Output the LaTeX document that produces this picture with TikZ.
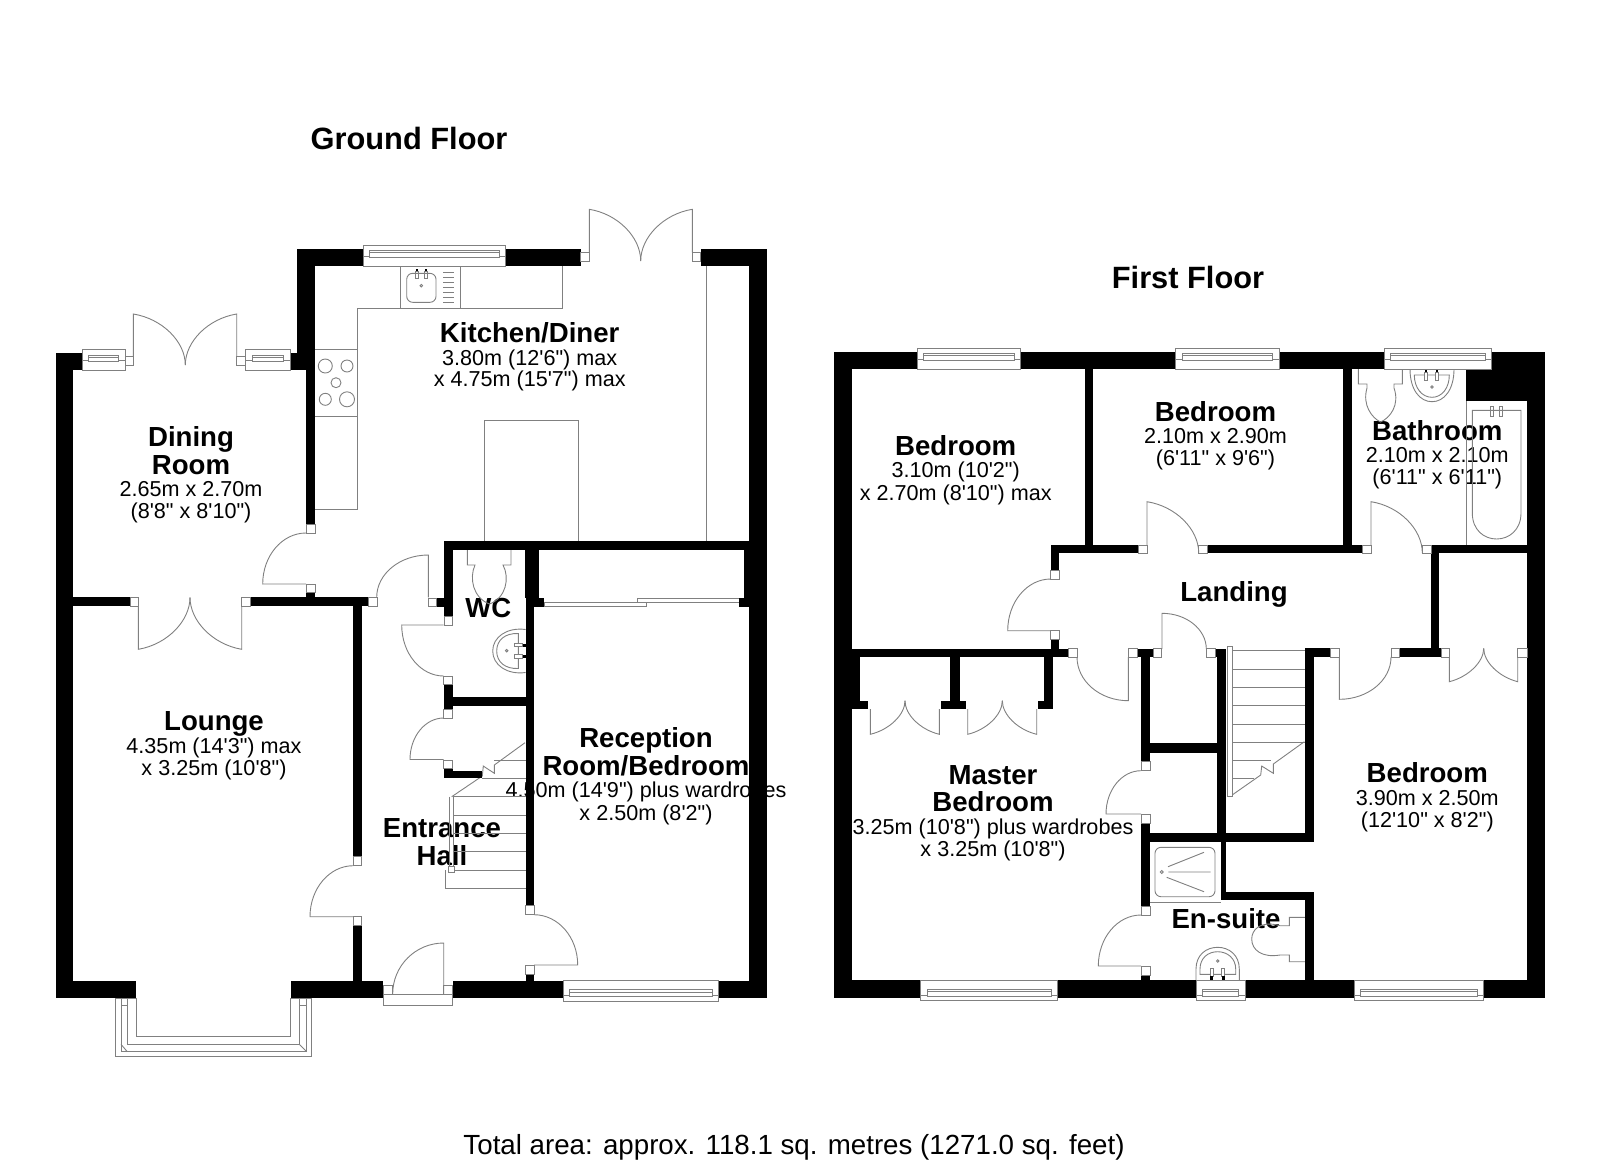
\documentclass[tikz,border=0pt]{standalone}
\usepackage{fontspec}
\usepackage{tikz}
\usetikzlibrary{calc}
\newfontfamily\plansans{Liberation Sans}
\definecolor{planline}{gray}{0.5}
\tikzset{
  roomname/.style={anchor=base,inner sep=0pt,font=\plansans\bfseries\fontsize{27.6}{28}\selectfont},
  roomsize/.style={anchor=base,inner sep=0pt,font=\plansans\fontsize{21.6}{23}\selectfont},
  floorname/.style={anchor=base,inner sep=0pt,font=\plansans\bfseries\fontsize{30.8}{32}\selectfont},
  totalarea/.style={anchor=base,inner sep=0pt,font=\plansans\fontsize{27.7}{29}\selectfont},
  fixture/.style={draw=planline,line width=0.9pt},
  jamb/.style={draw=planline,fill=white,line width=0.9pt},
  wall/.style={fill=black},
}
\begin{document}
\begin{tikzpicture}[x=1pt,y=-1pt]
  \useasboundingbox (0,0) rectangle (1600,1163);
  \node (groundtitle) [floorname] at (409,149) {Ground Floor};
  \node (firsttitle) [floorname] at (1188,288) {First Floor};
  \node (areatext) [totalarea] at (794,1154) {Total area: approx. 118.1 sq. metres (1271.0 sq. feet)};

  \node (diningname) [roomname] at (191,446.7) {Dining};
  \node (diningnameb) [roomname] at (191,474) {Room};
  \node (diningsize) [roomsize] at (191,496) {2.65m x 2.70m};
  \node (diningsizeb) [roomsize] at (191,518.3) {(8'8" x 8'10")};
  \node (kitchenname) [roomname] at (529.7,342.7) {Kitchen/Diner};
  \node (kitchensize) [roomsize] at (529.7,365) {3.80m (12'6") max};
  \node (kitchensizeb) [roomsize] at (529.7,386.7) {x 4.75m (15'7") max};
  \node (loungename) [roomname] at (214,730.7) {Lounge};
  \node (loungesize) [roomsize] at (214,753.3) {4.35m (14'3") max};
  \node (loungesizeb) [roomsize] at (214,775) {x 3.25m (10'8")};
  \node (hallname) [roomname] at (442,837.3) {Entrance};
  \node (hallnameb) [roomname] at (442,865) {Hall};
  \node (wcname) [roomname] at (488.3,617.3) {WC};
  \node (receptionname) [roomname] at (646,747.3) {Reception};
  \node (receptionnameb) [roomname] at (646,775) {Room/Bedroom};
  \node (receptionsize) [roomsize] at (646,797.3) {4.50m (14'9") plus wardrobes};
  \node (receptionsizeb) [roomsize] at (646,820) {x 2.50m (8'2")};

  \node (bedonename) [roomname] at (955.7,455) {Bedroom};
  \node (bedonesize) [roomsize] at (955.7,477.3) {3.10m (10'2")};
  \node (bedonesizeb) [roomsize] at (955.7,500) {x 2.70m (8'10") max};
  \node (bedtwoname) [roomname] at (1215.5,421) {Bedroom};
  \node (bedtwosize) [roomsize] at (1215.5,443.3) {2.10m x 2.90m};
  \node (bedtwosizeb) [roomsize] at (1215.5,465) {(6'11" x 9'6")};
  \node (bathname) [roomname] at (1437.3,440) {Bathroom};
  \node (bathsize) [roomsize] at (1437.3,462.3) {2.10m x 2.10m};
  \node (bathsizeb) [roomsize] at (1437.3,484.3) {(6'11" x 6'11")};
  \node (landingname) [roomname] at (1234,601.7) {Landing};
  \node (mastername) [roomname] at (993,784.3) {Master};
  \node (masternameb) [roomname] at (993,811.7) {Bedroom};
  \node (mastersize) [roomsize] at (993,834) {3.25m (10'8") plus wardrobes};
  \node (mastersizeb) [roomsize] at (993,856.7) {x 3.25m (10'8")};
  \node (bedthreename) [roomname] at (1427.3,782.3) {Bedroom};
  \node (bedthreesize) [roomsize] at (1427.3,805) {3.90m x 2.50m};
  \node (bedthreesizeb) [roomsize] at (1427.3,827.7) {(12'10" x 8'2")};
  \node (ensuitename) [roomname] at (1226,928.3) {En-suite};

  % kitchen fittings
  \draw[fixture] (706,266) -- (706,541);
  \draw[fixture] (484,541) -- (484,420.3) -- (578.3,420.3) -- (578.3,541);
  \draw[fixture] (315,509.3) -- (357.7,509.3) -- (357.7,308.7) -- (562.7,308.7) -- (562.7,266);
  \draw[fixture] (315,349.3) -- (357.7,349.3) (315,416.7) -- (357.7,416.7);
  \draw[fixture] (400,266) -- (400,308.7) (460.3,266) -- (460.3,308.7);
  \draw[fixture,rounded corners=6pt] (406.7,273.3) rectangle (436,302.3);
  \draw[fixture] (421.3,285.7) circle (1.3);
  \foreach \tapx in {416.7,426} {
    \draw[fixture] (\tapx-1.5,271) rectangle (\tapx+1.5,278.7);
    \fill (\tapx-1,268.5) rectangle (\tapx+1,271);
  }
  \foreach \drainy in {272.3,277.3,...,303} {
    \draw[fixture] (443.3,\drainy) -- (453.7,\drainy);
  }
  \foreach \hobx/\hoby/\hobr in {325.3/366/7,347/366/6,336/382.7/5,325.3/399.3/6,347/399.3/7.5} {
    \draw[fixture] (\hobx,\hoby) circle (\hobr);
  }

  % ground floor stairs
  \draw[fixture] (525,742.7) -- (494.3,765) -- (494.3,773.3) -- (483.3,766) -- (482.3,776) -- (451.7,796.7);
  \draw[fixture] (494.3,760.7) -- (525.7,760.7) (482.3,778.3) -- (525.7,778.3);
  \foreach \tready in {796.7,815,833.3,851.7,870} {
    \draw[fixture] (453,\tready) -- (525.7,\tready);
  }
  \draw[fixture] (449.3,796.7) -- (449.3,870) (453.3,796.7) -- (453.3,870);
  \draw[fixture] (445.3,870) -- (445.3,888.3) -- (525.7,888.3);
  \draw[jamb] (448.3,866.7) rectangle (454.3,872.3);

  % wc fittings
  \draw[fixture] (467.3,549.7) -- (467.3,565) -- (475,565) .. controls (469,578) and (473,598) .. (489.5,604) .. controls (506,598) and (510,578) .. (503,565) -- (511,565) -- (511,549.7);
  \draw[fixture] (525.7,629.5) .. controls (507,627) and (492.7,637) .. (492.7,651) .. controls (492.7,665) and (507,675) .. (525.7,672.5);
  \draw[fixture] (518.3,633.5) .. controls (505,633) and (496.7,640) .. (496.7,651) .. controls (496.7,662) and (505,669) .. (518.3,668.5) -- cycle;
  \draw[fixture] (506.7,650.7) circle (1.3);
  \foreach \tapy in {645,656.5} {
    \draw[fixture,fill=white] (514,\tapy-1.7) rectangle (522.5,\tapy+1.7);
    \fill (522.5,\tapy-1.5) rectangle (525.7,\tapy+1.5);
  }

  % sliding wardrobe rails
  \draw[jamb] (637.3,598) rectangle (739.3,602.7);
  \draw[jamb] (544,602.7) rectangle (646.7,606.7);

  % bathroom fittings
  \draw[fixture] (1358.3,369) -- (1358.3,384) -- (1367,384) -- (1367,388) .. controls (1362,405) and (1372,418) .. (1380.5,422) .. controls (1390,418) and (1400,405) .. (1394,388) -- (1394,384) -- (1402.3,384) -- (1402.3,369);
  \draw[fixture] (1410,369) .. controls (1410,390) and (1420,401.7) .. (1432,401.7) .. controls (1444,401.7) and (1454,390) .. (1454,369);
  \draw[fixture] (1414.3,375) .. controls (1414.3,388) and (1422,397.3) .. (1432,397.3) .. controls (1442,397.3) and (1449.3,388) .. (1449.3,375) -- cycle;
  \draw[fixture] (1432,387) circle (1.3);
  \foreach \tapx in {1426,1437.3} {
    \draw[fixture,fill=white] (\tapx-1.5,372) rectangle (\tapx+1.5,380);
    \fill (\tapx-1,369.3) rectangle (\tapx+1,372);
  }
  \draw[fixture] (1466,401.3) -- (1466,545);
  \draw[fixture] (1472.3,410.3) -- (1472.3,513) .. controls (1472.3,530) and (1484,539) .. (1496.6,539) .. controls (1509,539) and (1521,530) .. (1521,513) -- (1521,410.3) -- cycle;
  \foreach \tapx in {1492.3,1500.7} {
    \draw[fixture] (\tapx-1.5,406.7) rectangle (\tapx+1.5,416.7);
  }

  % first floor stairs
  \draw[fixture] (1304.3,741.7) -- (1273.3,764) -- (1273.3,773.3) -- (1261.7,766) -- (1260.7,775) -- (1230.7,796);
  \foreach \tready/\treadx in {650.7/1305,669/1305,687.3/1305,705.7/1305,724/1305,742/1305,760.3/1271,778.3/1254} {
    \draw[fixture] (1232.3,\tready) -- (\treadx,\tready);
  }
  \draw[jamb] (1227.7,646.7) rectangle (1232.3,796.7);

  % en-suite fittings
  \draw[fixture] (1150,902.3) -- (1220.7,902.3);
  \draw[fixture,rounded corners=6pt] (1155,847.3) rectangle (1215,896.7);
  \draw[fixture] (1161.7,872) circle (1.5);
  \draw[fixture] (1168.3,872) -- (1210.7,872) (1168,866.7) -- (1204,852.3) (1166.7,877.3) -- (1204,891.7);
  \draw[fixture] (1305,917.3) -- (1289.3,917.3) -- (1289.3,925.7) -- (1280,925.7) .. controls (1260,920) and (1251.7,930) .. (1251.7,939) .. controls (1251.7,950) and (1262,958) .. (1280,955) -- (1289.3,955) -- (1289.3,961.7) -- (1305,961.7);
  \draw[fixture] (1196,980) -- (1196,969) .. controls (1196,955) and (1206,947.3) .. (1217.7,947.3) .. controls (1229,947.3) and (1239.3,955) .. (1239.3,969) -- (1239.3,980);
  \draw[fixture] (1200,974.3) -- (1200,969) .. controls (1200,958) and (1208,951.7) .. (1217.7,951.7) .. controls (1227,951.7) and (1235.7,958) .. (1235.7,969) -- (1235.7,974.3) -- cycle;
  \draw[fixture] (1217.7,961) circle (1.3);
  \foreach \tapx in {1211.7,1223.3} {
    \draw[fixture,fill=white] (\tapx-1.5,968.3) rectangle (\tapx+1.5,976);
    \fill (\tapx-1.5,976) rectangle (\tapx+1.5,979.5);
  }

  % walls
  \foreach \xa/\ya/\xb/\yb in {
    56/352.7/73.3/998, 56/352.7/82/370, 290/352.7/315/370, 297.3/248.7/315/370,
    297.3/248.7/363/266, 505.7/248.7/580.7/266, 700.7/248.7/766.7/266, 749/248.7/766.7/998,
    306/370/315/524, 315/592.7/306/598, 73.3/597.3/130/606.3, 250.7/597.3/368.3/606.3,
    353.3/606/361.7/856.7, 353.3/925.7/361.7/981, 56/980.7/136/998, 290.7/980.7/383.3/998,
    452.7/980.7/563.3/998, 718.7/980.7/766.7/998, 444/541/749/549.7, 444/541/452.7/616,
    436.7/598.3/452.7/606.7, 525.3/549.7/538.7/598.3, 525.7/598/534/905.7, 525.7/598.3/544/606.7,
    744.3/549.7/749/606.7, 739.3/598/749/606.7, 443.7/684.7/452.7/709, 452.7/697.3/525.7/706,
    443.7/768.7/452.7/778.3, 443.7/770.7/482.3/778.3, 525.7/974/534/981,
    834.3/351.7/852/997.7, 834.3/351.7/917.3/369.3, 1020.7/351.7/1175.7/369.3, 1279.3/351.7/1384.3/369.3,
    1491.7/351.7/1544.7/369.3, 1527/351.7/1544.7/997.7, 1466/369/1527/401.3, 1084.7/369/1093.3/553.3,
    1050.7/545/1138.3/553.3, 1207.3/545/1362.7/553.3, 1431/545/1527/553.3, 1343/369/1351.7/545,
    1430.7/553/1439.3/657, 1050.7/545/1059.3/570, 1050.7/639.7/1059.3/649, 852/648.7/1068.3/657.3,
    1137/648.7/1153.7/657.3, 1215/648.7/1225.7/657.3, 1141/657/1150/761.7, 1141/823/1150/906, 1141/975/1150/981,
    1150/743.3/1216.7/752.7, 1150/833/1313.3/842, 1216.7/649/1225.7/842, 1220.7/842/1225.7/900.3,
    1220.7/892.3/1313.7/900.3, 1305/648.3/1313.7/842, 1305/648.3/1330.7/657, 1399.7/648.3/1441.7/657,
    1305/892/1313.7/981, 834.3/980/920.7/997.7, 1057.7/980/1196/997.7, 1245/980/1354.3/997.7, 1483.7/980/1544.7/997.7,
    852/657/860/709, 852/700.7/868.3/709, 950/657/960/701, 941.3/700.7/965.7/709,
    1044.3/657/1053.3/701, 1038.3/700.7/1053.3/709} {
    \fill[wall] (\xa,\ya) rectangle (\xb,\yb);
  }

  % door jambs
  \foreach \xa/\ya/\xb/\yb in {
    125/356.7/133.3/365.7, 236.7/356.7/245.7/365.7, 580.7/252.7/589.3/261.7, 692.3/252.7/700.7/261.7,
    306/524/315/533, 306/584/315/592.7, 130/597.3/138.3/606.3, 241.7/597.3/250.7/606.3,
    368.3/597.3/377/606.3, 428.3/598.3/436.7/606.7, 444/616/452.7/625, 443.7/676/452.7/684.7,
    443.7/709/452.7/718, 443.7/760/452.7/768.7, 353.3/856.7/361.7/865.7, 353.3/916.7/361.7/925.7,
    383.3/985.3/392.7/994, 443.7/985.3/452.7/994, 525.7/905.7/534/914.7, 525.7/965.7/534/974,
    1138.3/545/1147/553.3, 1198.7/545/1207.3/553.3, 1362.7/545/1371/553.3, 1422.3/545/1431/553.3,
    1050.7/570/1059.3/579.3, 1050.7/630.7/1059.3/639.7, 1068.3/648.7/1077/657.3, 1128.3/648.7/1137/657.3,
    1153.7/648.7/1161.7/657.3, 1206.3/648.7/1215/657.3, 1141/761.7/1150/770.7, 1141/814/1150/823,
    1141/906/1150/915, 1141/966/1150/975, 1330.7/648.3/1339.3/657, 1391/648.3/1399.7/657,
    1441/648.3/1449.3/657, 1517.7/648.3/1527/657} {
    \draw[jamb] (\xa,\ya) rectangle (\xb,\yb);
  }

  % windows
  \foreach \xa/\xb/\ya/\yb/\ra/\rb in {
    82/125/349.7/370/355/361.7, 245.7/290/349.7/370/355/361.7, 363/505.7/245.3/266/250/257.7,
    563.3/718.7/980.7/1001/989.7/996.7, 917.3/1020.7/348.3/369.3/353.3/360, 1175.7/1279.3/348.3/369.3/353.3/360,
    1384.3/1491.7/348.3/369.3/353.3/360, 920.7/1057.7/980/1000/989/996, 1196/1245/980/1000/989/996,
    1354.3/1483.7/980/1000/989/996} {
    \draw[jamb] (\xa,\ya) rectangle (\xb,\yb);
    \draw[fixture] (\xa+6.5,\ra) rectangle (\xb-6.5,\rb);
    \draw[fixture] (\xa+6.5,\ra+2.5) -- (\xb-6.5,\ra+2.5);
    \draw[fixture] (\xa,\rb-1) -- (\xa+6.5,\rb-1) (\xb-6.5,\rb-1) -- (\xb,\rb-1);
  }

  % bay window and front door step
  \draw[jamb,fill=none] (136,998) -- (115.7,998) -- (115.7,1056) -- (311,1056) -- (311,998) -- (290.7,998);
  \draw[fixture] (136,998) -- (136,1036) -- (290.7,1036) -- (290.7,998);
  \draw[fixture] (121,998) -- (121,1051.7) -- (306.7,1051.7) -- (306.7,998);
  \draw[fixture] (127.3,998) -- (127.3,1044.3) -- (299.3,1044.3) -- (299.3,998);
  \draw[fixture] (121,1005) -- (127.3,1005) (299.3,1005) -- (306.7,1005);
  \draw[fixture] (121,1044.3) -- (127.3,1051.7) (299.3,1044.3) -- (306.7,1051.7);
  \draw[fixture] (383.3,994) -- (383.3,1005.7) -- (452.7,1005.7) -- (452.7,994) -- cycle;

  % doors
  \foreach \hx/\hy/\ax/\ay/\bx/\by in {
    306/584/262.7/584/306/533, 428.3/597.3/428.3/555/376.7/597.3, 443.7/625/401.7/625/443.7/676,
    443.7/759.5/410/759.5/443.7/718, 353.3/916.7/310/916.7/353.3/865.7, 443.7/994/443.7/943/392.7/994,
    534/965/577.7/965/534/914.7, 133.3/356.7/133.3/314/185.3/365, 236.7/356.7/236.7/314/185.3/365,
    138.3/606/138.3/649.3/190/597.3, 241.7/606/241.7/649.3/190/597.3, 589.3/252.7/589.3/209.3/640.7/261,
    692.3/252.7/692.3/209.3/640.7/261, 1147/545/1147/501.7/1198.7/553, 1371/545/1371/501.7/1422.3/553,
    1050.7/630.7/1007.7/630.7/1050.7/579, 1128.3/657/1128.3/700.7/1077/657, 1162/649/1162/613.3/1206.3/649,
    1141/814/1106/814/1141/770.7, 1141/966/1098.3/966/1141/915, 1339.3/657/1339.3/699.3/1391/657,
    1449.3/657/1449.3/681.7/1483.7/648.3, 1517.7/657/1517.7/681.7/1483.7/648.3, 870.3/709/870.3/734.3/905/700.7,
    939.3/709/939.3/734.3/905/700.7, 967.7/709/967.7/734.3/1002.3/700.7, 1036.7/709/1036.7/734.3/1002.3/700.7} {
    \draw[fixture] (\hx,\hy) -- (\ax,\ay) .. controls ($(\ax,\ay)+0.5523*(\bx,\by)-0.5523*(\hx,\hy)$) and ($(\bx,\by)+0.5523*(\ax,\ay)-0.5523*(\hx,\hy)$) .. (\bx,\by);
  }
\end{tikzpicture}
\end{document}
